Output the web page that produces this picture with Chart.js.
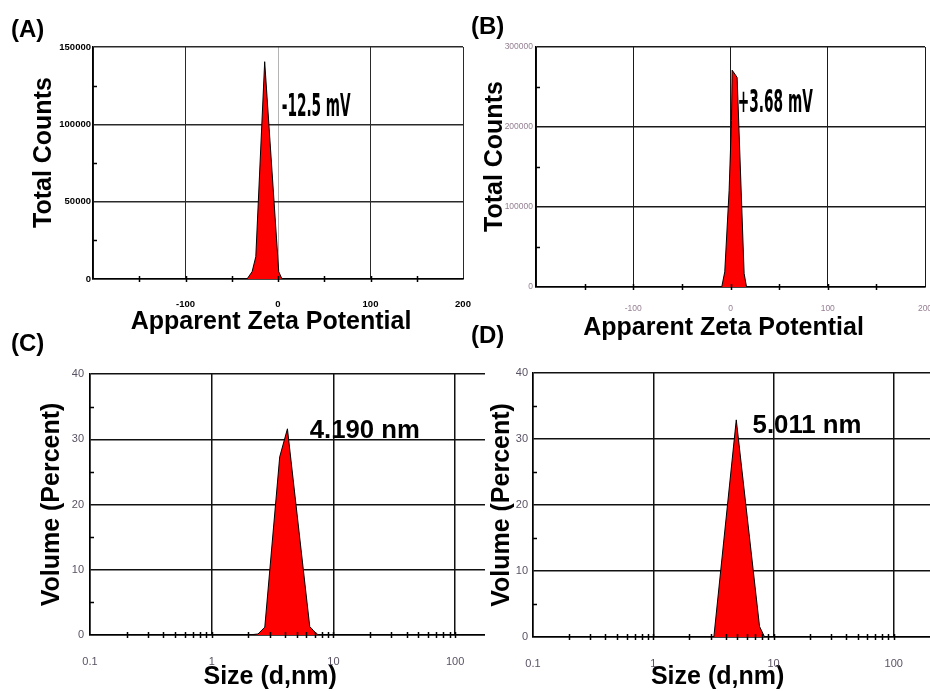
<!DOCTYPE html>
<html>
<head>
<meta charset="utf-8">
<script src="https://cdn.jsdelivr.net/npm/chart.js@4.4.1/dist/chart.umd.min.js"></script>
<style>
  body { margin: 0; background: #fff; }
  #page { position: relative; width: 930px; height: 691px; overflow: hidden; background: #fff; }
  #page canvas { position: absolute; }
  .tag { position: absolute; font: bold 24px 'Liberation Sans', Arial, sans-serif; line-height: 1; color: #000; }
</style>
</head>
<body>
<div id="page">
  <canvas id="chartA" width="480" height="340" style="left:0;top:0"></canvas>
  <canvas id="chartB" width="460" height="350" style="left:470px;top:0"></canvas>
  <canvas id="chartC" width="485" height="351" style="left:0;top:340px"></canvas>
  <canvas id="chartD" width="445" height="351" style="left:485px;top:340px"></canvas>
  <div class="tag" style="left:11px;top:17px">(A)</div>
  <div class="tag" style="left:471px;top:14px">(B)</div>
  <div class="tag" style="left:11px;top:331px">(C)</div>
  <div class="tag" style="left:471px;top:323px">(D)</div>
</div>
<script>
// ---- tick values ----
const zetaTicks = [-200, -100, 0, 100, 200];
const zetaMinorTicks = [-150, -100, -50, 0, 50, 100, 150];
const countsTicksA = [0, 50000, 100000, 150000];
const countsMinorA = [25000, 75000, 125000];
const countsTicksB = [0, 100000, 200000, 300000];
const countsMinorB = [50000, 150000, 250000];
const sizeTicks = [0.1, 1, 10, 100];
const sizeMinorTicks = [0.2, 0.3, 0.4, 0.5, 0.6, 0.7, 0.8, 0.9, 1,
  2, 3, 4, 5, 6, 7, 8, 9, 10, 20, 30, 40, 50, 60, 70, 80, 90, 100];
const volumeTicks = [0, 10, 20, 30, 40];
const volumeMinorTicks = [5, 15, 25, 35];

// ---- (A) zeta potential ----
const zetaA = [-36, -33.5, -28, -24, -14.4, 0.8, 4.3, 8];
const countsA = [0, 0, 4700, 14400, 140500, 4700, 0, 0];

// ---- (B) zeta potential ----
const zetaB = [-12, -9, -5.9, -1.4, 1.0, 1.7, 6.8, 14, 16.5, 20];
const countsB = [0, 0, 19000, 121000, 208000, 271000, 262000, 17000, 0, 0];

// ---- (C) size distribution by volume ----
const sizeC = [2.0, 2.4, 2.73, 3.62, 4.19, 6.39, 7.25, 7.6, 8.5];
const volumeC = [0, 0.15, 1.2, 27.3, 31.6, 1.3, 0.2, 0, 0];

// ---- (D) size distribution by volume ----
const sizeD = [2.8, 3.19, 4.9, 7.65, 8.42, 9];
const volumeD = [0, 0, 32.9, 1.6, 0, 0];

const SANS = "'Liberation Sans', Arial, sans-serif";
const NARROW = "'Liberation Sans Narrow', 'DejaVu Sans Condensed', 'Liberation Sans', sans-serif";
const NBSP = '\u00a0';

// small tick marks: inside on the y axis, crossing the x axis
const minorTicks = {
  id: 'minorTicks',
  afterDatasetsDraw(chart, args, opts) {
    const { ctx, chartArea, scales } = chart;
    ctx.save();
    ctx.strokeStyle = '#000';
    ctx.lineWidth = 1.5;
    ctx.beginPath();
    (opts.x || []).forEach(v => {
      const px = Math.round(scales.x.getPixelForValue(v)) + 0.5;
      ctx.moveTo(px, chartArea.bottom - 3);
      ctx.lineTo(px, chartArea.bottom + 3);
    });
    (opts.y || []).forEach(v => {
      const py = Math.round(scales.y.getPixelForValue(v)) + 0.5;
      ctx.moveTo(chartArea.left, py);
      ctx.lineTo(chartArea.left + 4, py);
    });
    ctx.stroke();
    ctx.restore();
  }
};

// the peak value written next to each peak
const peakLabel = {
  id: 'peakLabel',
  afterDatasetsDraw(chart, args, opts) {
    if (!opts.text) return;
    const { ctx, scales } = chart;
    const px = scales.x.getPixelForValue(opts.x);
    const py = scales.y.getPixelForValue(opts.y);
    ctx.save();
    ctx.font = opts.font;
    ctx.fillStyle = '#000';
    ctx.textAlign = 'left';
    ctx.textBaseline = 'middle';
    const sx = opts.width ? opts.width / ctx.measureText(opts.text).width : 1;
    ctx.translate(px, py);
    ctx.scale(sx, 1);
    ctx.fillText(opts.text, 0, 0);
    ctx.restore();
  }
};

function makeChart(id, p) {
  const canvas = document.getElementById(id);
  const W = canvas.width, H = canvas.height;
  return new Chart(canvas.getContext('2d'), {
    type: 'line',
    data: {
      datasets: [{
        data: p.xs.map((x, i) => ({ x: x, y: p.ys[i] })),
        borderColor: '#000',
        borderWidth: 1,
        backgroundColor: '#ff0000',
        fill: 'origin',
        pointRadius: 0,
        tension: 0,
      }],
    },
    options: {
      responsive: false,
      animation: false,
      layout: { padding: { left: 0, top: p.area.top, right: W - p.area.right, bottom: 0 } },
      plugins: {
        legend: { display: false },
        tooltip: { enabled: false },
        minorTicks: { x: p.xMinor, y: p.yMinor },
        peakLabel: p.label,
      },
      scales: {
        x: {
          type: p.xType,
          min: p.xMin,
          max: p.xMax,
          afterBuildTicks: s => { s.ticks = p.xTicks.map(v => ({ value: v })); },
          afterFit: s => { s.height = H - p.area.bottom; s.paddingLeft = 0; s.paddingRight = 0; },
          grid: { color: p.xGridColor, lineWidth: p.xGridWidth, drawTicks: false },
          border: { color: '#000', width: 1.5 },
          ticks: {
            autoSkip: false, maxRotation: 0, padding: p.xTickPad,
            color: p.tickColor, font: p.tickFont,
            callback: v => (v === p.xHide ? '' : String(v)),
          },
          title: {
            display: true, text: p.xTitle, color: '#000',
            font: { family: SANS, size: 25, weight: 'bold', lineHeight: 1 },
            padding: { top: 0, bottom: p.xTitlePad },
          },
        },
        y: {
          min: 0,
          max: p.yMax,
          afterBuildTicks: s => { s.ticks = p.yTicks.map(v => ({ value: v })); },
          afterFit: s => { s.width = p.area.left; s.paddingTop = 0; s.paddingBottom = 0; },
          grid: { color: p.yGridColor, lineWidth: 1.5, drawTicks: false },
          border: { color: '#000', width: 1.5 },
          ticks: {
            autoSkip: false, padding: p.yTickPad,
            color: p.tickColor, font: p.tickFont,
            callback: v => String(v),
          },
          title: {
            display: true, text: p.yTitle, color: '#000',
            font: { family: SANS, size: 25, weight: 'bold', lineHeight: 1 },
            padding: { top: p.yTitlePad, bottom: 0 },
          },
        },
      },
    },
    plugins: [minorTicks, peakLabel],
  });
}

makeChart('chartA', {
  xs: zetaA, ys: countsA,
  xType: 'linear', xMin: -200, xMax: 200, xTicks: zetaTicks, xMinor: zetaMinorTicks, xHide: -200,
  yMax: 150000, yTicks: countsTicksA, yMinor: countsMinorA,
  area: { left: 93, top: 47, right: 463, bottom: 279 },
  xGridColor: c => (c.tick && c.tick.value === 0 ? '#b4b4b4' : '#2a2a2a'), xGridWidth: 1,
  yGridColor: '#2a2a2a',
  tickColor: '#000', tickFont: { family: SANS, size: 9.5, weight: 'bold' },
  xTickPad: 20, yTickPad: 2,
  xTitle: 'Apparent Zeta Potential' + NBSP + NBSP, xTitlePad: 5.5,
  yTitle: NBSP + NBSP + NBSP + 'Total Counts', yTitlePad: 31.5,
  label: { text: '-12.5 mV', x: 4, y: 111000, width: 69, font: 'bold 32px ' + NARROW },
});

makeChart('chartB', {
  xs: zetaB, ys: countsB,
  xType: 'linear', xMin: -200, xMax: 200, xTicks: zetaTicks, xMinor: zetaMinorTicks, xHide: -200,
  yMax: 300000, yTicks: countsTicksB, yMinor: countsMinorB,
  area: { left: 66, top: 47, right: 455, bottom: 287 },
  xGridColor: '#1a1a1a', xGridWidth: 1,
  yGridColor: '#1a1a1a',
  tickColor: '#957f92', tickFont: { family: SANS, size: 8.5 },
  xTickPad: 17, yTickPad: 3,
  xTitle: 'Apparent Zeta Potential' + NBSP + NBSP, xTitlePad: 9.5,
  yTitle: NBSP + NBSP + NBSP + 'Total Counts', yTitlePad: 12.5,
  label: { text: '+3.68 mV', x: 7.5, y: 229000, width: 75, font: 'bold 32px ' + NARROW },
});

makeChart('chartC', {
  xs: sizeC, ys: volumeC,
  xType: 'logarithmic', xMin: 0.1, xMax: 176, xTicks: sizeTicks, xMinor: sizeMinorTicks,
  yMax: 40, yTicks: volumeTicks, yMinor: volumeMinorTicks,
  area: { left: 90, top: 34, right: 485, bottom: 295 },
  xGridColor: '#111', xGridWidth: 1.5,
  yGridColor: '#111',
  tickColor: '#5a5264', tickFont: { family: SANS, size: 11 },
  xTickPad: 20, yTickPad: 6,
  xTitle: 'Size (d,nm)' + NBSP.repeat(5), xTitlePad: 1,
  yTitle: 'Volume (Percent)', yTitlePad: 39.5,
  label: { text: '4.190 nm', x: 6.39, y: 31.3, width: 110, font: 'bold 25px ' + SANS },
});

makeChart('chartD', {
  xs: sizeD, ys: volumeD,
  xType: 'logarithmic', xMin: 0.1, xMax: 200, xTicks: sizeTicks, xMinor: sizeMinorTicks,
  yMax: 40, yTicks: volumeTicks, yMinor: volumeMinorTicks,
  area: { left: 48, top: 33, right: 445, bottom: 297 },
  xGridColor: '#111', xGridWidth: 1.5,
  yGridColor: '#111',
  tickColor: '#5a5264', tickFont: { family: SANS, size: 11 },
  xTickPad: 20, yTickPad: 5,
  xTitle: 'Size (d,nm)' + NBSP.repeat(4), xTitlePad: 1,
  yTitle: 'Volume (Percent)', yTitlePad: 4.5,
  label: { text: '5.011 nm', x: 6.69, y: 31.9, width: 109, font: 'bold 25px ' + SANS },
});
</script>
</body>
</html>
